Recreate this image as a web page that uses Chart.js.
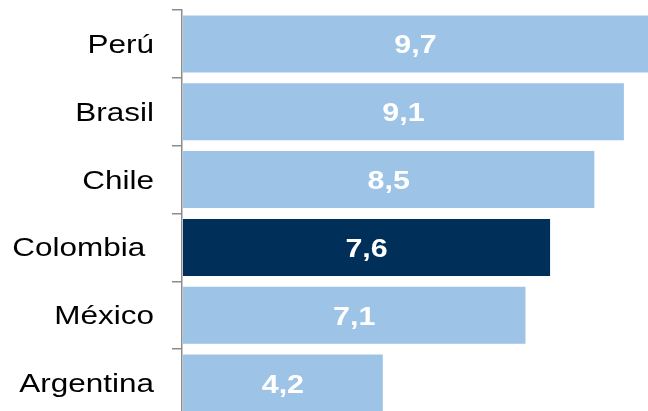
<!DOCTYPE html>
<html>
<head>
<meta charset="utf-8">
<script src="https://cdn.jsdelivr.net/npm/chart.js@4.4.1/dist/chart.umd.min.js"></script>
<style>
  html, body { margin: 0; padding: 0; background: #fff; overflow: hidden; }
  canvas { display: block; }
</style>
</head>
<body>
<canvas id="chart" width="648" height="417"></canvas>
<script>
// data
const countries = ["Perú", "Brasil", "Chile", "Colombia ", "México", "Argentina"];
const values = [9.7, 9.1, 8.5, 7.6, 7.1, 4.2];
const highlight = "Colombia ";

const lightBlue = "#9DC3E6";
const navy = "#00305A";
const axisGray = "#8C8C8C";
// source picture text looks widened, so draw labels a bit stretched
const LABEL_STRETCH = 1.21;
const VALUE_STRETCH = 1.17;

function drawStretched(ctx, text, x, y, align, font, color, stretch) {
  ctx.save();
  ctx.translate(x, y);
  ctx.scale(stretch, 1);
  ctx.font = font;
  ctx.fillStyle = color;
  ctx.textAlign = align;
  ctx.textBaseline = "alphabetic";
  ctx.fillText(text, 0, 0);
  ctx.restore();
}

const labels = {
  id: "labels",
  afterDraw(chart) {
    const ctx = chart.ctx;
    const yScale = chart.scales.y;
    const meta = chart.getDatasetMeta(0);
    const left = chart.chartArea.left + 1;
    countries.forEach((name, i) => {
      const cy = yScale.getPixelForValue(i);
      drawStretched(ctx, name, 154, cy + 9, "right",
        "26px 'Liberation Sans', Arial, sans-serif", "#000", LABEL_STRETCH);
      const right = Math.min(meta.data[i].x, chart.width);
      drawStretched(ctx, values[i].toFixed(1).replace(".", ","), (left + right) / 2, cy + 9.5, "center",
        "bold 26px 'Liberation Sans', Arial, sans-serif", "#fff", VALUE_STRETCH);
    });
  },
};

new Chart(document.getElementById("chart"), {
  type: "bar",
  data: {
    labels: countries,
    datasets: [
      {
        data: values,
        backgroundColor: countries.map((c) => (c === highlight ? navy : lightBlue)),
        borderWidth: 0,
        barPercentage: 0.84,
        categoryPercentage: 1,
        clip: { left: -1, top: 0, right: 0, bottom: 0 },
      },
    ],
  },
  options: {
    indexAxis: "y",
    responsive: false,
    animation: false,
    devicePixelRatio: 1,
    layout: { padding: { left: 172, top: 10, right: 0, bottom: 0 } },
    plugins: {
      legend: { display: false },
      tooltip: { enabled: false },
    },
    scales: {
      x: {
        display: false,
        min: 0.12,
        max: 9.59,
      },
      y: {
        ticks: { display: false },
        grid: {
          drawOnChartArea: false,
          tickLength: 10,
          color: axisGray,
          lineWidth: 1.5,
        },
        border: { color: axisGray, width: 1.5 },
      },
    },
  },
  plugins: [labels],
});
</script>
</body>
</html>
